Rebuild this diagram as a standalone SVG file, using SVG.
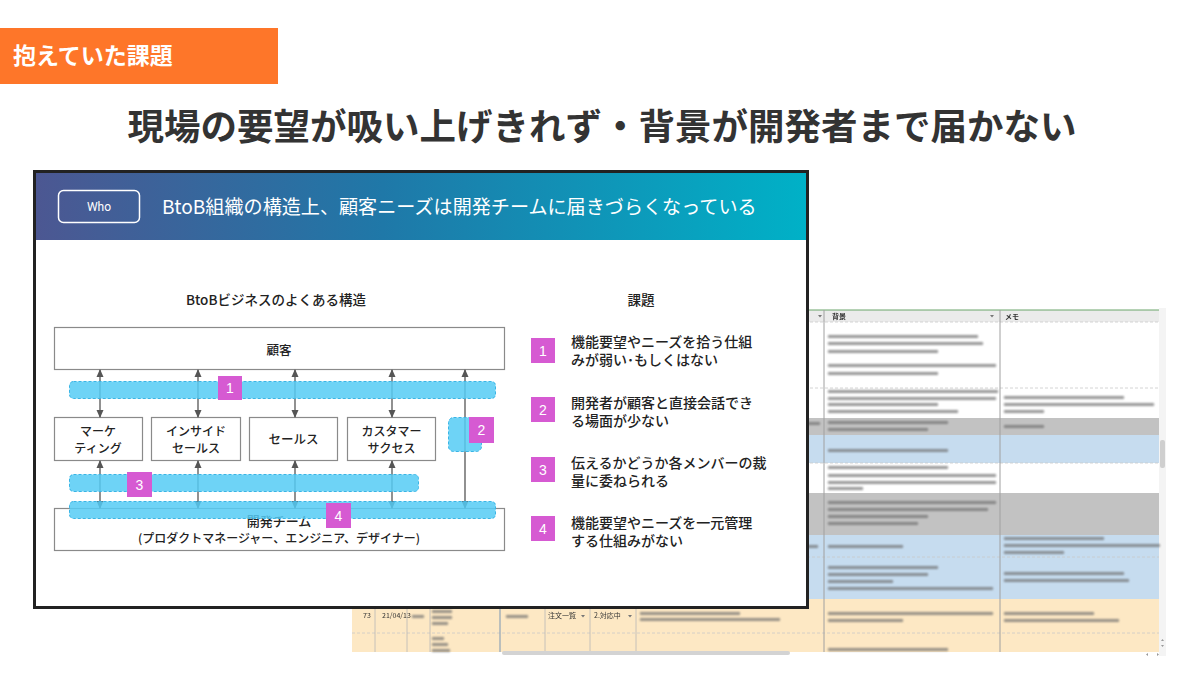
<svg xmlns="http://www.w3.org/2000/svg" width="1200" height="674" viewBox="0 0 1200 674">
<defs>
<linearGradient id="hdr" x1="0" y1="0" x2="1" y2="0">
<stop offset="0" stop-color="#4c5792"/>
<stop offset="0.45" stop-color="#1f78a8"/>
<stop offset="1" stop-color="#00b1c7"/>
</linearGradient>
<filter id="blur" x="-5%" y="-5%" width="110%" height="110%"><feGaussianBlur stdDeviation="1"/></filter>
<filter id="blurS" x="-5%" y="-5%" width="110%" height="110%"><feGaussianBlur stdDeviation="0.4"/></filter>
<marker id="ah" viewBox="0 0 8 8" refX="7" refY="4" markerWidth="8" markerHeight="8" markerUnits="userSpaceOnUse" orient="auto-start-reverse">
<path d="M0,0.5 L8,4 L0,7.5 Z" fill="#555"/>
</marker>
</defs>
<style>
.jp{font-family:"Noto Sans CJK JP","Noto Sans",sans-serif}
.box{fill:#fff;stroke:#8a8a8a;stroke-width:1.2}
.lbl{font-family:"Noto Sans CJK JP","Noto Sans",sans-serif;font-size:12.5px;fill:#222;font-weight:500;text-anchor:middle}
.lbl2{font-family:"Noto Sans CJK JP","Noto Sans",sans-serif;font-size:12px;fill:#222;font-weight:500;text-anchor:middle}
.band{fill:#55cbf5;fill-opacity:0.85;stroke:#39b5e6;stroke-width:1;stroke-dasharray:3 2}
.badge{fill:#d65ad2}
.bnum{font-family:"Liberation Sans",sans-serif;font-size:14px;fill:#fff;text-anchor:middle}
.arr{stroke:#555;stroke-width:1.3;fill:none}
.item{font-family:"Noto Sans CJK JP","Noto Sans",sans-serif;font-size:14px;fill:#222;font-weight:500}
.bar{fill:#6d6d6d}
.sm{font-family:"Noto Sans CJK JP","Liberation Sans",sans-serif;font-size:7px;fill:#333}
.vl{stroke:#b8b8b8;stroke-width:0.8}
.dl{stroke:#c9c9c9;stroke-width:0.8;stroke-dasharray:3 2}
</style>

<!-- background spreadsheet -->
<g id="spreadsheet">
<g filter="url(#blurS)">
<rect x="352" y="308" width="814" height="348" fill="#fff"/>
<rect x="800" y="310" width="360" height="12" fill="#ebebeb"/>
<line x1="800" y1="310" x2="1160" y2="310" stroke="#6aa56a" stroke-width="1"/>
<line x1="800" y1="322" x2="1160" y2="322" class="dl"/>
<rect x="800" y="418" width="359" height="17" fill="#c2c2c2"/>
<rect x="800" y="435" width="359" height="28" fill="#c6dcef"/>
<rect x="800" y="493" width="359" height="42" fill="#c2c2c2"/>
<rect x="352" y="535" width="807" height="64" fill="#c6dcef"/>
<rect x="352" y="599" width="807" height="53" fill="#fde8c4"/>
<line x1="800" y1="388" x2="1160" y2="388" class="dl"/>
<line x1="800" y1="463" x2="1160" y2="463" class="dl"/>
<line x1="352" y1="557" x2="1160" y2="557" class="dl"/>
<line x1="352" y1="633" x2="1160" y2="633" class="dl"/>
<line x1="375" y1="600" x2="375" y2="652" class="vl"/>
<line x1="407" y1="600" x2="407" y2="652" class="vl"/>
<line x1="430" y1="600" x2="430" y2="652" class="vl"/>
<line x1="500" y1="600" x2="500" y2="652" stroke="#8fa3b8" stroke-width="1.2"/>
<line x1="545" y1="600" x2="545" y2="652" class="vl"/>
<line x1="590" y1="600" x2="590" y2="652" class="vl"/>
<line x1="636" y1="600" x2="636" y2="652" class="vl"/>
<line x1="824" y1="310" x2="824" y2="652" stroke="#a0a0a0" stroke-width="1"/>
<line x1="1000" y1="310" x2="1000" y2="652" stroke="#a0a0a0" stroke-width="1"/>
<text x="832" y="319" class="sm" font-weight="bold">背景</text>
<text x="1005" y="319" class="sm" font-weight="bold">メモ</text>
<path d="M818,315 l4,0 l-2,2.5 z M990,315 l4,0 l-2,2.5 z" fill="#777"/>
<text x="363" y="618" class="sm">73</text>
<text x="382" y="618" class="sm">21/04/13</text>
<text x="548" y="618" class="sm">注文一覧</text>
<text x="594" y="618" class="sm">2.対応中</text>
<path d="M581,615 l4,0 l-2,2.5 z M628,615 l4,0 l-2,2.5 z" fill="#777"/>
<rect x="1159" y="308" width="7" height="348" fill="#f4f4f4"/>
<rect x="1160" y="440" width="5" height="28" rx="2" fill="#cfcfcf"/>
<rect x="502" y="651" width="288" height="4" rx="2" fill="#d3d3d3"/>
<path d="M1161,641 l3,0 l-1.5,-2 z M1161,645 l3,0 l-1.5,2 z M1148,656 l0,-3 l-2,1.5 z M1157,656 l0,-3 l2,1.5 z" fill="#999"/>
</g>
<g filter="url(#blur)" class="bar" opacity="0.7">
<rect x="828" y="335" width="150" height="3"/>
<rect x="828" y="342" width="155" height="3"/>
<rect x="828" y="350" width="110" height="3"/>
<rect x="828" y="364" width="168" height="3"/>
<rect x="828" y="372" width="110" height="3"/>
<rect x="828" y="390" width="170" height="3"/>
<rect x="828" y="397" width="168" height="3"/>
<rect x="828" y="403" width="110" height="3"/>
<rect x="828" y="410" width="130" height="3"/>
<rect x="1004" y="396" width="120" height="3"/>
<rect x="1004" y="403" width="150" height="3"/>
<rect x="1004" y="410" width="40" height="3"/>
<rect x="828" y="421" width="120" height="3"/>
<rect x="828" y="428" width="100" height="3"/>
<rect x="802" y="422" width="18" height="3"/>
<rect x="1004" y="425" width="40" height="3"/>
<rect x="828" y="449" width="120" height="3"/>
<rect x="828" y="466" width="120" height="3"/>
<rect x="828" y="474" width="168" height="3"/>
<rect x="828" y="481" width="168" height="3"/>
<rect x="828" y="487" width="35" height="3"/>
<rect x="828" y="501" width="168" height="3"/>
<rect x="828" y="508" width="160" height="3"/>
<rect x="828" y="515" width="100" height="3"/>
<rect x="828" y="522" width="90" height="3"/>
<rect x="802" y="545" width="16" height="3"/>
<rect x="828" y="545" width="75" height="3"/>
<rect x="1004" y="537" width="100" height="3"/>
<rect x="1004" y="544" width="156" height="3"/>
<rect x="1004" y="551" width="60" height="3"/>
<rect x="828" y="566" width="110" height="3"/>
<rect x="828" y="573" width="100" height="3"/>
<rect x="828" y="580" width="65" height="3"/>
<rect x="828" y="587" width="165" height="3"/>
<rect x="1004" y="572" width="120" height="3"/>
<rect x="1004" y="579" width="125" height="3"/>
<rect x="828" y="612" width="165" height="3"/>
<rect x="828" y="619" width="75" height="3"/>
<rect x="1004" y="612" width="90" height="3"/>
<rect x="1004" y="619" width="115" height="3"/>
<rect x="828" y="648" width="120" height="3"/>
<rect x="640" y="612" width="100" height="3"/>
<rect x="640" y="618" width="140" height="3"/>
<rect x="432" y="610" width="20" height="3"/>
<rect x="432" y="616" width="20" height="3"/>
<rect x="432" y="622" width="16" height="3"/>
<rect x="432" y="637" width="12" height="3"/>
<rect x="432" y="643" width="16" height="3"/>
<rect x="432" y="649" width="18" height="3"/>
<rect x="412" y="615" width="12" height="3"/>
<rect x="506" y="615" width="22" height="3"/>
</g>
</g>

<!-- top tag and title -->
<g id="tag">
<rect x="0" y="28" width="278" height="56" fill="#fe7629"/>
<text x="13" y="64" class="jp" font-size="23" font-weight="bold" fill="#fff">抱えていた課題</text>
</g>
<g id="title">
<text x="602" y="140" class="jp" font-size="36.5" font-weight="bold" fill="#333" text-anchor="middle">現場の要望が吸い上げきれず・背景が開発者まで届かない</text>
</g>

<!-- slide -->
<g id="slide">
<rect x="34.5" y="171.5" width="773" height="436" fill="#fff" stroke="#222" stroke-width="3"/>
<rect x="36" y="173" width="770" height="67" fill="url(#hdr)"/>
<rect x="58.5" y="190.5" width="81" height="32" rx="5" fill="none" stroke="#fff" stroke-width="1.5"/>
<text x="99" y="211" font-family="Roboto,'Liberation Sans',sans-serif" font-size="12" fill="#fff" text-anchor="middle">Who</text>
<text x="162" y="214" class="jp" font-size="19.1" fill="#fff">BtoB組織の構造上、顧客ニーズは開発チームに届きづらくなっている</text>
<text x="276" y="305" class="jp" font-size="13.5" font-weight="500" fill="#222" text-anchor="middle">BtoBビジネスのよくある構造</text>
<text x="641" y="305" class="jp" font-size="13.5" font-weight="500" fill="#222" text-anchor="middle">課題</text>
</g>

<g id="customer">
<rect x="54.5" y="327.5" width="450" height="42" class="box"/>
<text x="279" y="355" class="lbl" font-size="13">顧客</text>
</g>
<g id="marketing">
<rect x="54.5" y="417.5" width="88" height="43" class="box"/>
<text class="lbl2"><tspan x="98" y="435.5">マーケ</tspan><tspan x="98" y="453">ティング</tspan></text>
</g>
<g id="inside-sales">
<rect x="151.5" y="417.5" width="89" height="43" class="box"/>
<text class="lbl2"><tspan x="196" y="435.5">インサイド</tspan><tspan x="196" y="453">セールス</tspan></text>
</g>
<g id="sales">
<rect x="249.5" y="417.5" width="88" height="43" class="box"/>
<text x="293.5" y="444" class="lbl">セールス</text>
</g>
<g id="customer-success">
<rect x="347.5" y="417.5" width="88" height="43" class="box"/>
<text class="lbl2"><tspan x="391.5" y="435.5">カスタマー</tspan><tspan x="391.5" y="453">サクセス</tspan></text>
</g>
<g id="dev-team">
<rect x="54.5" y="508.5" width="450" height="42" class="box"/>
<text class="lbl"><tspan x="279" y="526" font-size="13">開発チーム</tspan><tspan x="279" y="543" font-size="12">(プロダクトマネージャー、エンジニア、デザイナー)</tspan></text>
</g>

<g id="connectors">
<line x1="100" y1="370" x2="100" y2="417" class="arr" marker-start="url(#ah)" marker-end="url(#ah)"/>
<line x1="198" y1="370" x2="198" y2="417" class="arr" marker-start="url(#ah)" marker-end="url(#ah)"/>
<line x1="295" y1="370" x2="295" y2="417" class="arr" marker-start="url(#ah)" marker-end="url(#ah)"/>
<line x1="392" y1="370" x2="392" y2="417" class="arr" marker-start="url(#ah)" marker-end="url(#ah)"/>
<line x1="100" y1="461" x2="100" y2="508" class="arr" marker-start="url(#ah)" marker-end="url(#ah)"/>
<line x1="198" y1="461" x2="198" y2="508" class="arr" marker-start="url(#ah)" marker-end="url(#ah)"/>
<line x1="295" y1="461" x2="295" y2="508" class="arr" marker-start="url(#ah)" marker-end="url(#ah)"/>
<line x1="392" y1="461" x2="392" y2="508" class="arr" marker-start="url(#ah)" marker-end="url(#ah)"/>
<line x1="465" y1="370" x2="465" y2="508" class="arr" marker-start="url(#ah)" marker-end="url(#ah)"/>
</g>

<g id="issue-bands">
<rect x="69.5" y="381.5" width="426" height="17" rx="4" class="band"/>
<rect x="448.5" y="417.5" width="33" height="34" rx="5" class="band"/>
<rect x="69.5" y="474.5" width="349" height="17" rx="4" class="band"/>
<rect x="69.5" y="501.5" width="426" height="17" rx="4" class="band"/>
<rect x="218" y="376" width="24" height="24" class="badge"/>
<text x="230" y="393" class="bnum">1</text>
<rect x="469" y="417" width="25" height="26" class="badge"/>
<text x="481.5" y="435" class="bnum">2</text>
<rect x="127" y="472" width="25" height="25" class="badge"/>
<text x="139.5" y="489.5" class="bnum">3</text>
<rect x="326" y="503" width="25" height="25" class="badge"/>
<text x="338.5" y="520.5" class="bnum">4</text>
</g>

<g id="issue-1">
<rect x="531" y="338" width="24" height="25" class="badge"/>
<text x="543" y="355.5" class="bnum">1</text>
<text class="item"><tspan x="571" y="347">機能要望やニーズを拾う仕組</tspan><tspan x="571" y="365">みが弱い･もしくはない</tspan></text>
</g>
<g id="issue-2">
<rect x="531" y="397" width="24" height="25" class="badge"/>
<text x="543" y="414.5" class="bnum">2</text>
<text class="item"><tspan x="571" y="407.5">開発者が顧客と直接会話でき</tspan><tspan x="571" y="425.5">る場面が少ない</tspan></text>
</g>
<g id="issue-3">
<rect x="531" y="457" width="24" height="25" class="badge"/>
<text x="543" y="474.5" class="bnum">3</text>
<text class="item"><tspan x="571" y="467.5">伝えるかどうか各メンバーの裁</tspan><tspan x="571" y="485.5">量に委ねられる</tspan></text>
</g>
<g id="issue-4">
<rect x="531" y="516" width="24" height="25" class="badge"/>
<text x="543" y="533.5" class="bnum">4</text>
<text class="item"><tspan x="571" y="527.5">機能要望やニーズを一元管理</tspan><tspan x="571" y="545.5">する仕組みがない</tspan></text>
</g>
</svg>
